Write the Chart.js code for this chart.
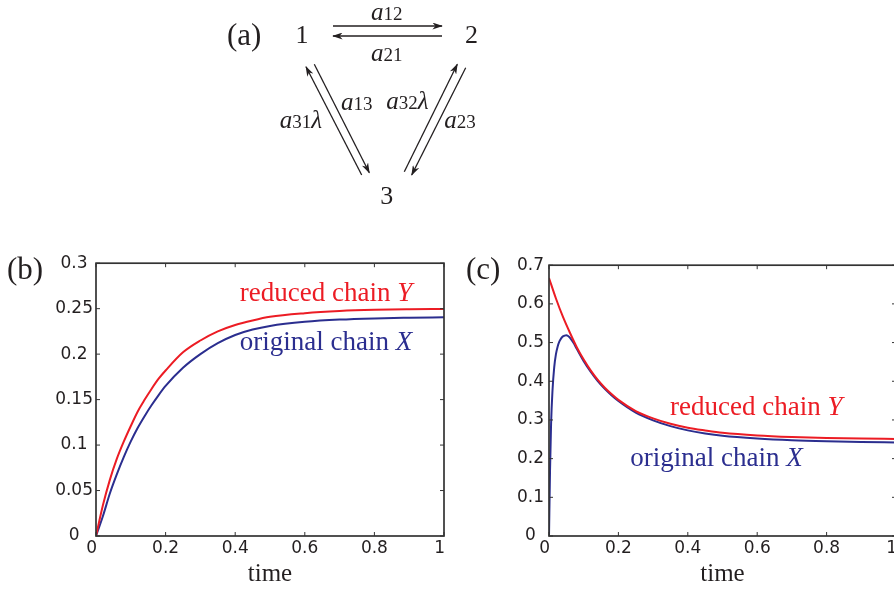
<!DOCTYPE html>
<html>
<head>
<meta charset="utf-8">
<script src="https://cdn.jsdelivr.net/npm/chart.js@4.4.1/dist/chart.umd.min.js"></script>
<style>
  html, body { margin: 0; padding: 0; background: #fff; overflow: hidden; }
  #page { position: relative; width: 894px; height: 590px; overflow: hidden; background: #fff; }
  canvas { position: absolute; }
  #chartB { left: 46px; top: 250px; }
  #chartC { left: 499px; top: 250px; }
  svg { position: absolute; left: 0; top: 0; font-family: 'Liberation Serif', 'Times New Roman', serif; fill: #231f20; }
</style>
</head>
<body>
<div id="page">
  <canvas id="chartB" width="413" height="340"></canvas>
  <canvas id="chartC" width="412" height="340"></canvas>
  <svg width="894" height="590">
    <defs>
      <marker id="head" viewBox="0 0 12 8" refX="11" refY="4" markerWidth="11" markerHeight="7" markerUnits="userSpaceOnUse" orient="auto">
        <path d="M0,0 L12,4 L0,8 L3.5,4 Z" fill="#231f20"/>
      </marker>
    </defs>
    <!-- (a) transition diagram -->
    <text x="227" y="45" font-size="31">(a)</text>
    <text x="302" y="42.7" font-size="26" text-anchor="middle">1</text>
    <text x="471.5" y="42.7" font-size="26" text-anchor="middle">2</text>
    <text x="386.7" y="204" font-size="26" text-anchor="middle">3</text>
    <g stroke="#231f20" stroke-width="1.3" fill="none">
      <line x1="333" y1="26" x2="442" y2="26" marker-end="url(#head)"/>
      <line x1="442" y1="36" x2="333" y2="36" marker-end="url(#head)"/>
      <line x1="361.7" y1="175" x2="306" y2="66.7" marker-end="url(#head)"/>
      <line x1="314.3" y1="64.3" x2="369.3" y2="172.7" marker-end="url(#head)"/>
      <line x1="404.3" y1="171.7" x2="457.3" y2="64.3" marker-end="url(#head)"/>
      <line x1="465.7" y1="67.7" x2="411.7" y2="175" marker-end="url(#head)"/>
    </g>
    <text x="386.7" y="19.5" text-anchor="middle"><tspan font-style="italic" font-size="25">a</tspan><tspan font-size="19">12</tspan></text>
    <text x="386.7" y="60.7" text-anchor="middle"><tspan font-style="italic" font-size="25">a</tspan><tspan font-size="19">21</tspan></text>
    <text x="300.8" y="128.3" text-anchor="middle"><tspan font-style="italic" font-size="25">a</tspan><tspan font-size="19">31</tspan><tspan font-style="italic" font-size="25">λ</tspan></text>
    <text x="356.7" y="110" text-anchor="middle"><tspan font-style="italic" font-size="25">a</tspan><tspan font-size="19">13</tspan></text>
    <text x="407.5" y="109" text-anchor="middle"><tspan font-style="italic" font-size="25">a</tspan><tspan font-size="19">32</tspan><tspan font-style="italic" font-size="25">λ</tspan></text>
    <text x="460" y="128.3" text-anchor="middle"><tspan font-style="italic" font-size="25">a</tspan><tspan font-size="19">23</tspan></text>
    <!-- panel letters -->
    <text x="7" y="279" font-size="31">(b)</text>
    <text x="466" y="279" font-size="31">(c)</text>
  </svg>
</div>
<script>
// panel (b)
const timeB = [0, 0.02, 0.04, 0.06, 0.08, 0.1, 0.12, 0.14, 0.16, 0.18, 0.2, 0.25, 0.3, 0.35, 0.4, 0.45, 0.5, 0.6, 0.7, 0.8, 0.9, 1.0];
const reducedB = [0, 0.034, 0.062, 0.085, 0.104, 0.121, 0.137, 0.15, 0.162, 0.173, 0.182, 0.202, 0.215, 0.225, 0.232, 0.237, 0.241, 0.245, 0.2474, 0.2487, 0.2493, 0.2496];
const originalB = [0, 0.022, 0.047, 0.068, 0.087, 0.104, 0.119, 0.132, 0.144, 0.155, 0.165, 0.185, 0.2, 0.212, 0.221, 0.227, 0.231, 0.2355, 0.238, 0.2393, 0.24, 0.2405];

// panel (c)
const timeRedC = [0, 0.02, 0.04, 0.06, 0.08, 0.1, 0.12, 0.14, 0.16, 0.18, 0.2, 0.25, 0.3, 0.35, 0.4, 0.45, 0.5, 0.6, 0.7, 0.8, 0.9, 1.0];
const reducedC = [0.667, 0.614, 0.567, 0.526, 0.488, 0.456, 0.428, 0.404, 0.384, 0.367, 0.352, 0.323, 0.304, 0.29, 0.28, 0.273, 0.267, 0.26, 0.256, 0.2535, 0.252, 0.251];
const timeBlueC = [0, 0.003, 0.006, 0.01, 0.015, 0.02, 0.025, 0.03, 0.035, 0.04, 0.045, 0.05, 0.055, 0.06, 0.07, 0.08, 0.1, 0.12, 0.14, 0.16, 0.18, 0.2, 0.25, 0.3, 0.35, 0.4, 0.45, 0.5, 0.6, 0.7, 0.8, 0.9, 1.0];
const originalC = [0, 0.17, 0.29, 0.375, 0.436, 0.47, 0.49, 0.503, 0.511, 0.516, 0.518, 0.519, 0.517, 0.513, 0.5, 0.484, 0.452, 0.425, 0.401, 0.381, 0.364, 0.349, 0.319, 0.299, 0.284, 0.273, 0.265, 0.259, 0.252, 0.2475, 0.2448, 0.243, 0.2418];

const xTicks = [0, 0.2, 0.4, 0.6, 0.8, 1];
const yTicksB = [0, 0.05, 0.1, 0.15, 0.2, 0.25, 0.3];
const yTicksC = [0, 0.1, 0.2, 0.3, 0.4, 0.5, 0.6, 0.7];

const RED = '#ec1c24';
const BLUE = '#2b2e8f';
const INK = '#231f20';

const toPoints = (xs, ys) => xs.map((x, i) => ({ x: x, y: ys[i] }));

// the whole-number labels sit a little left of their ticks in the original
const xLabel = (v) => (Number.isInteger(v) ? String(v) + '\u2002' : String(v));

// box around the plot with matlab style inward ticks, plus the curve labels
const framePlugin = {
  id: 'frame',
  afterDatasetsDraw(chart, args, opts) {
    const { ctx, chartArea: a, scales } = chart;
    const len = 4;
    ctx.save();
    ctx.strokeStyle = '#333';
    ctx.lineWidth = 1.7;
    ctx.strokeRect(a.left, a.top, a.width, a.height);
    ctx.beginPath();
    scales.x.ticks.forEach((t) => {
      const px = scales.x.getPixelForValue(t.value);
      ctx.moveTo(px, a.bottom);
      ctx.lineTo(px, a.bottom - len);
      ctx.moveTo(px, a.top);
      ctx.lineTo(px, a.top + len);
    });
    scales.y.ticks.forEach((t) => {
      const py = scales.y.getPixelForValue(t.value);
      ctx.moveTo(a.left, py);
      ctx.lineTo(a.left + len, py);
      ctx.moveTo(a.right, py);
      ctx.lineTo(a.right - len, py);
    });
    ctx.lineWidth = 1;
    ctx.stroke();

    (opts.notes || []).forEach((n) => {
      const px = scales.x.getPixelForValue(n.x);
      const py = scales.y.getPixelForValue(n.y);
      ctx.fillStyle = n.color;
      ctx.textBaseline = 'alphabetic';
      ctx.font = '27px "Liberation Serif"';
      ctx.fillText(n.text, px, py);
      const w = ctx.measureText(n.text).width;
      ctx.font = 'italic 27px "Liberation Serif"';
      ctx.fillText(n.sym, px + w, py);
    });
    ctx.restore();
  },
};

function makeChart(id, series, yMax, yTicks, yPad, notes) {
  const ctx = document.getElementById(id).getContext('2d');
  return new Chart(ctx, {
    type: 'line',
    data: {
      datasets: series.map((s) => ({
        data: s.data,
        borderColor: s.color,
        borderWidth: 2,
        pointRadius: 0,
        fill: false,
        cubicInterpolationMode: 'monotone',
      })),
    },
    options: {
      responsive: false,
      animation: false,
      layout: { padding: { left: 0, right: 15, top: 12, bottom: 1 } },
      plugins: {
        legend: { display: false },
        tooltip: { enabled: false },
        frame: { notes: notes },
      },
      scales: {
        x: {
          type: 'linear',
          min: 0,
          max: 1,
          afterBuildTicks: (s) => {
            s.ticks = xTicks.map((v) => ({ value: v }));
          },
          afterFit: (s) => {
            s.height = 53;
          },
          grid: { display: false, drawTicks: false },
          border: { display: false },
          ticks: {
            autoSkip: false,
            maxRotation: 0,
            padding: 2,
            color: INK,
            font: { family: 'DejaVu Sans', size: 17 },
            callback: xLabel,
          },
          title: {
            display: true,
            text: 'time',
            color: INK,
            font: { family: 'Liberation Serif', size: 25 },
            padding: { top: 0, bottom: 0 },
          },
        },
        y: {
          type: 'linear',
          min: 0,
          max: yMax,
          afterBuildTicks: (s) => {
            s.ticks = yTicks.map((v) => ({ value: v }));
          },
          afterFit: (s) => {
            s.width = 50;
          },
          grid: { display: false, drawTicks: false },
          border: { display: false },
          ticks: {
            autoSkip: false,
            crossAlign: 'center',
            padding: yPad,
            color: INK,
            font: { family: 'DejaVu Sans', size: 17 },
            callback: (v) => String(v),
          },
        },
      },
    },
    plugins: [framePlugin],
  });
}

makeChart(
  'chartB',
  [
    { data: toPoints(timeB, reducedB), color: RED },
    { data: toPoints(timeB, originalB), color: BLUE },
  ],
  0.3,
  yTicksB,
  3,
  [
    { x: 0.413, y: 0.2585, text: 'reduced chain ', sym: 'Y', color: RED },
    { x: 0.413, y: 0.2048, text: 'original chain ', sym: 'X', color: BLUE },
  ]
);

makeChart(
  'chartC',
  [
    { data: toPoints(timeRedC, reducedC), color: RED },
    { data: toPoints(timeBlueC, originalC), color: BLUE },
  ],
  0.7,
  yTicksC,
  5,
  [
    { x: 0.349, y: 0.313, text: 'reduced chain ', sym: 'Y', color: RED },
    { x: 0.234, y: 0.181, text: 'original chain ', sym: 'X', color: BLUE },
  ]
);
</script>
</body>
</html>
